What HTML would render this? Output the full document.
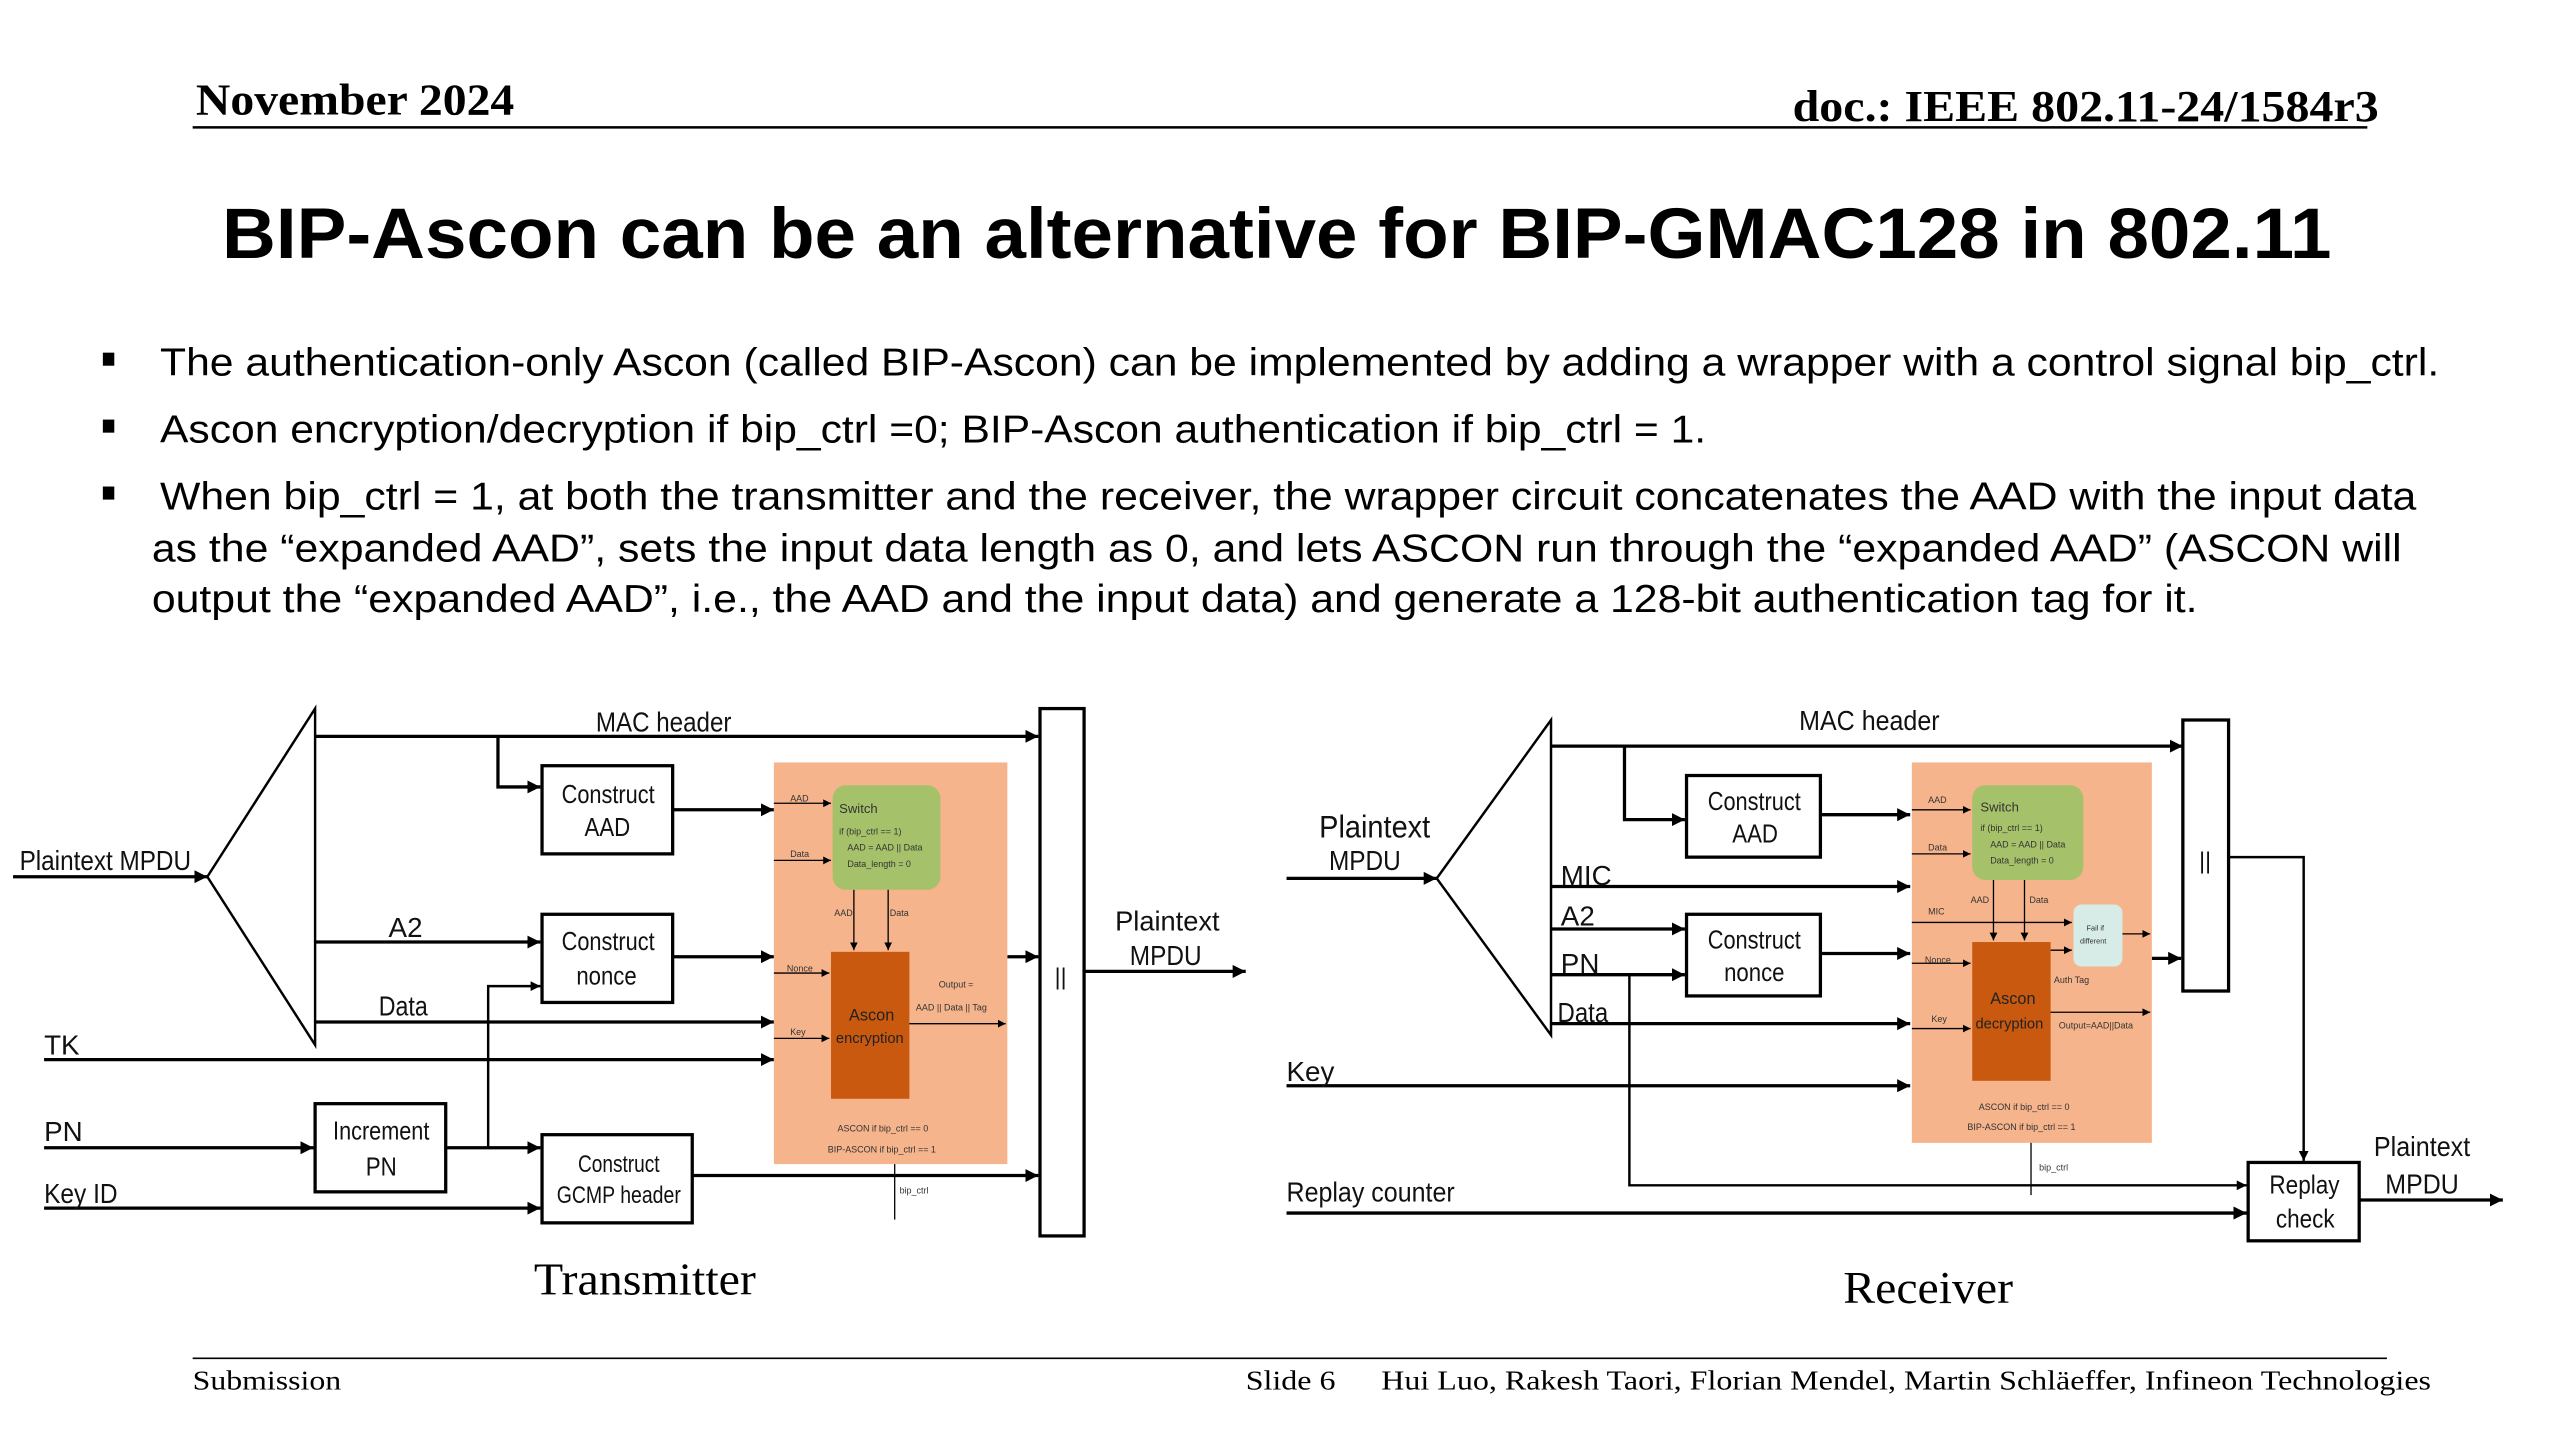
<!DOCTYPE html>
<html><head><meta charset="utf-8"><style>
html,body{margin:0;padding:0;background:#fff;}
svg{display:block;}
.s{font-family:"Liberation Sans",sans-serif;}
.r{font-family:"Liberation Serif",serif;}
</style></head><body>
<svg width="2560" height="1440" viewBox="0 0 1568 882" preserveAspectRatio="none" xmlns="http://www.w3.org/2000/svg">
<defs>
<marker id="a" viewBox="0 0 10 10" refX="10" refY="5" markerWidth="4" markerHeight="4" orient="auto" markerUnits="strokeWidth"><path d="M0,0 L10,5 L0,10 z" fill="#000"/></marker>
<marker id="b" viewBox="0 0 10 10" refX="10" refY="5" markerWidth="6" markerHeight="6" orient="auto" markerUnits="strokeWidth"><path d="M0,0 L10,5 L0,10 z" fill="#000"/></marker>
</defs>
<rect width="1568" height="882" fill="#fff"/>
<g lengthAdjust="spacingAndGlyphs">
<!-- header -->
<text x="120" y="70" class="r" font-weight="bold" font-size="27" textLength="195" lengthAdjust="spacingAndGlyphs">November 2024</text>
<text x="1098" y="74" class="r" font-weight="bold" font-size="27" textLength="359" lengthAdjust="spacingAndGlyphs">doc.: IEEE 802.11-24/1584r3</text>
<line x1="118" y1="78" x2="1450" y2="78" stroke="#000" stroke-width="1.5"/>
<text x="136" y="158" class="s" font-weight="bold" font-size="44" textLength="1292" lengthAdjust="spacingAndGlyphs">BIP-Ascon can be an alternative for BIP-GMAC128 in 802.11</text>
<g class="s" font-size="24" fill="#000">
<rect x="63" y="216" width="7" height="8"/><rect x="63" y="257" width="7" height="8"/><rect x="63" y="298" width="7" height="8"/>
<text x="98" y="230" textLength="1396" lengthAdjust="spacingAndGlyphs">The authentication-only Ascon (called BIP-Ascon) can be implemented by adding a wrapper with a control signal bip_ctrl.</text>
<text x="98" y="271" textLength="947" lengthAdjust="spacingAndGlyphs">Ascon encryption/decryption if bip_ctrl =0; BIP-Ascon authentication if bip_ctrl = 1.</text>
<text x="98" y="312" textLength="1382" lengthAdjust="spacingAndGlyphs">When bip_ctrl = 1, at both the transmitter and the receiver, the wrapper circuit concatenates the AAD with the input data</text>
<text x="93" y="344" textLength="1378" lengthAdjust="spacingAndGlyphs">as the “expanded AAD”, sets the input data length as 0, and lets ASCON run through the “expanded AAD” (ASCON will</text>
<text x="93" y="375" textLength="1253" lengthAdjust="spacingAndGlyphs">output the “expanded AAD”, i.e., the AAD and the input data) and generate a 128-bit authentication tag for it.</text>
</g>

<!-- Transmitter -->
<g stroke="#000" stroke-width="2" fill="none">
<path d="M193,434 L127,537 L193,640 Z" stroke-width="1.5"/>
<line x1="8" y1="537" x2="127" y2="537" marker-end="url(#a)"/>
<line x1="193" y1="451" x2="636" y2="451" marker-end="url(#a)"/>
<polyline points="305,451 305,482 331,482" marker-end="url(#a)"/>
<rect x="332" y="469" width="80" height="54" fill="#fff"/>
<line x1="412" y1="496" x2="474" y2="496" marker-end="url(#a)"/>
<line x1="193" y1="577" x2="331" y2="577" marker-end="url(#a)"/>
<rect x="332" y="560" width="80" height="54" fill="#fff"/>
<line x1="412" y1="586" x2="474" y2="586" marker-end="url(#a)"/>
<polyline points="299,703 299,604 331,604" marker-end="url(#a)" stroke-width="1.5"/>
<line x1="193" y1="626" x2="474" y2="626" marker-end="url(#a)"/>
<line x1="27" y1="649" x2="474" y2="649" marker-end="url(#a)"/>
<line x1="27" y1="703" x2="192" y2="703" marker-end="url(#a)"/>
<rect x="193" y="676" width="80" height="54" fill="#fff"/>
<line x1="273" y1="703" x2="331" y2="703" marker-end="url(#a)"/>
<line x1="27" y1="740" x2="331" y2="740" marker-end="url(#a)"/>
<rect x="332" y="695" width="92" height="54" fill="#fff"/>
<line x1="424" y1="720" x2="636" y2="720" marker-end="url(#a)"/>
<line x1="617" y1="586" x2="636" y2="586" marker-end="url(#a)"/>
<rect x="637" y="434" width="27" height="323" fill="#fff"/>
<line x1="664" y1="595" x2="763" y2="595" marker-end="url(#a)"/>
</g>
<rect x="474" y="467" width="143" height="246" fill="#f5b48b"/>
<rect x="510" y="481" width="66" height="64" rx="8" fill="#a5c26a"/>
<rect x="509" y="583" width="48" height="90" fill="#c8590f"/>
<g stroke="#000" stroke-width="0.8" fill="none">
<line x1="474" y1="492" x2="509" y2="492" marker-end="url(#b)"/>
<line x1="474" y1="527" x2="509" y2="527" marker-end="url(#b)"/>
<line x1="523" y1="545" x2="523" y2="582" marker-end="url(#b)"/>
<line x1="544" y1="545" x2="544" y2="582" marker-end="url(#b)"/>
<line x1="474" y1="596" x2="508" y2="596" marker-end="url(#b)"/>
<line x1="474" y1="636" x2="508" y2="636" marker-end="url(#b)"/>
<line x1="557" y1="627" x2="616" y2="627" marker-end="url(#b)"/>
<line x1="548" y1="747" x2="548" y2="713"/>
</g>
<g class="s" font-size="5.5" fill="#333">
<text x="484" y="491">AAD</text><text x="484" y="525">Data</text>
<text x="514" y="498" font-size="8">Switch</text>
<text x="514" y="511">if (bip_ctrl == 1)</text>
<text x="519" y="521">AAD = AAD || Data</text>
<text x="519" y="531">Data_length = 0</text>
<text x="511" y="561">AAD</text><text x="545" y="561">Data</text>
<text x="482" y="595">Nonce</text><text x="484" y="634">Key</text>
<text x="575" y="605">Output =</text><text x="561" y="619">AAD || Data || Tag</text>
<text x="513" y="693">ASCON if bip_ctrl == 0</text>
<text x="507" y="706">BIP-ASCON if bip_ctrl == 1</text>
<text x="551" y="731">bip_ctrl</text>
</g>
<text x="520" y="625" class="s" font-size="10" fill="#222">Ascon</text>
<text x="512" y="639" class="s" font-size="9" fill="#222">encryption</text>
<g class="s" font-size="17" fill="#111">
<text x="12" y="533" textLength="105" lengthAdjust="spacingAndGlyphs">Plaintext MPDU</text>
<text x="365" y="448" textLength="83" lengthAdjust="spacingAndGlyphs">MAC header</text>
<text x="238" y="574">A2</text>
<text x="232" y="622" textLength="30" lengthAdjust="spacingAndGlyphs">Data</text>
<text x="27" y="646">TK</text>
<text x="27" y="699">PN</text>
<text x="27" y="737" textLength="45" lengthAdjust="spacingAndGlyphs">Key ID</text>
<text x="344" y="492" font-size="16" textLength="57" lengthAdjust="spacingAndGlyphs">Construct</text><text x="358" y="512" font-size="16" textLength="28" lengthAdjust="spacingAndGlyphs">AAD</text>
<text x="344" y="582" font-size="16" textLength="57" lengthAdjust="spacingAndGlyphs">Construct</text><text x="353" y="603" font-size="16" textLength="37" lengthAdjust="spacingAndGlyphs">nonce</text>
<text x="204" y="698" font-size="16" textLength="59" lengthAdjust="spacingAndGlyphs">Increment</text><text x="224" y="720" font-size="16" textLength="19" lengthAdjust="spacingAndGlyphs">PN</text>
<text x="354" y="718" font-size="15" textLength="50" lengthAdjust="spacingAndGlyphs">Construct</text><text x="341" y="737" font-size="15" textLength="76" lengthAdjust="spacingAndGlyphs">GCMP header</text>
<text x="683" y="570" textLength="64" lengthAdjust="spacingAndGlyphs">Plaintext</text><text x="692" y="591" textLength="44" lengthAdjust="spacingAndGlyphs">MPDU</text>
<text x="646" y="603" font-size="14">||</text>
</g>
<text x="395" y="793" class="r" font-size="28" text-anchor="middle" textLength="136" lengthAdjust="spacingAndGlyphs">Transmitter</text>

<!-- Receiver -->
<g stroke="#000" stroke-width="2" fill="none">
<path d="M950,441 L880,538 L950,634 Z" stroke-width="1.5"/>
<line x1="788" y1="538" x2="880" y2="538" marker-end="url(#a)"/>
<line x1="950" y1="457" x2="1337" y2="457" marker-end="url(#a)"/>
<polyline points="995,457 995,502 1032,502" marker-end="url(#a)"/>
<rect x="1033" y="475" width="82" height="50" fill="#fff"/>
<line x1="1115" y1="499" x2="1170" y2="499" marker-end="url(#a)"/>
<line x1="950" y1="543" x2="1170" y2="543" marker-end="url(#a)"/>
<line x1="950" y1="569" x2="1032" y2="569" marker-end="url(#a)"/>
<line x1="950" y1="597" x2="1032" y2="597" marker-end="url(#a)"/>
<rect x="1033" y="560" width="82" height="50" fill="#fff"/>
<line x1="1115" y1="584" x2="1170" y2="584" marker-end="url(#a)"/>
<line x1="950" y1="627" x2="1170" y2="627" marker-end="url(#a)"/>
<polyline points="998,597 998,726 1376,726" marker-end="url(#a)" stroke-width="1.5"/>
<line x1="788" y1="665" x2="1170" y2="665" marker-end="url(#a)"/>
<line x1="788" y1="743" x2="1376" y2="743" marker-end="url(#a)"/>
<line x1="1318" y1="587" x2="1336" y2="587" marker-end="url(#a)"/>
<rect x="1337" y="441" width="28" height="166" fill="#fff"/>
<polyline points="1365,525 1411,525 1411,711" marker-end="url(#a)" stroke-width="1.5"/>
<rect x="1377" y="712" width="68" height="48" fill="#fff"/>
<line x1="1445" y1="735" x2="1533" y2="735" marker-end="url(#a)"/>
</g>
<rect x="1171" y="467" width="147" height="233" fill="#f5b48b"/>
<rect x="1208" y="481" width="68" height="58" rx="8" fill="#a5c26a"/>
<rect x="1208" y="577" width="48" height="85" fill="#c8590f"/>
<rect x="1270" y="554" width="30" height="38" rx="5" fill="#d7ece7"/>
<g stroke="#000" stroke-width="0.8" fill="none">
<line x1="1171" y1="496" x2="1207" y2="496" marker-end="url(#b)"/>
<line x1="1171" y1="523" x2="1207" y2="523" marker-end="url(#b)"/>
<line x1="1221" y1="539" x2="1221" y2="576" marker-end="url(#b)"/>
<line x1="1240" y1="539" x2="1240" y2="576" marker-end="url(#b)"/>
<line x1="1171" y1="565" x2="1269" y2="565" marker-end="url(#b)"/>
<line x1="1256" y1="582" x2="1269" y2="582" marker-end="url(#b)"/>
<line x1="1171" y1="590" x2="1207" y2="590" marker-end="url(#b)"/>
<line x1="1171" y1="630" x2="1207" y2="630" marker-end="url(#b)"/>
<line x1="1256" y1="620" x2="1317" y2="620" marker-end="url(#b)"/>
<line x1="1300" y1="572" x2="1317" y2="572" marker-end="url(#b)"/>
<line x1="1244" y1="732" x2="1244" y2="700"/>
</g>
<g class="s" font-size="5.5" fill="#333">
<text x="1181" y="492">AAD</text><text x="1181" y="521">Data</text>
<text x="1213" y="497" font-size="8">Switch</text>
<text x="1213" y="509">if (bip_ctrl == 1)</text>
<text x="1219" y="519">AAD = AAD || Data</text>
<text x="1219" y="529">Data_length = 0</text>
<text x="1207" y="553">AAD</text><text x="1243" y="553">Data</text>
<text x="1181" y="560">MIC</text>
<text x="1179" y="590">Nonce</text><text x="1183" y="626">Key</text>
<text x="1278" y="570" font-size="4.5">Fail if</text><text x="1274" y="578" font-size="4.5">different</text>
<text x="1258" y="602">Auth Tag</text>
<text x="1261" y="630">Output=AAD||Data</text>
<text x="1212" y="680">ASCON if bip_ctrl == 0</text>
<text x="1205" y="692">BIP-ASCON if bip_ctrl == 1</text>
<text x="1249" y="717">bip_ctrl</text>
</g>
<text x="1219" y="615" class="s" font-size="10" fill="#222">Ascon</text>
<text x="1210" y="630" class="s" font-size="9" fill="#222">decryption</text>
<g class="s" font-size="17" fill="#111">
<text x="808" y="513" font-size="19" textLength="68" lengthAdjust="spacingAndGlyphs">Plaintext</text><text x="814" y="533" font-size="17" textLength="44" lengthAdjust="spacingAndGlyphs">MPDU</text>
<text x="1102" y="447" textLength="86" lengthAdjust="spacingAndGlyphs">MAC header</text>
<text x="956" y="542">MIC</text><text x="956" y="567">A2</text><text x="956" y="596">PN</text><text x="954" y="626" textLength="31" lengthAdjust="spacingAndGlyphs">Data</text>
<text x="788" y="662">Key</text>
<text x="788" y="736" textLength="103" lengthAdjust="spacingAndGlyphs">Replay counter</text>
<text x="1046" y="496" font-size="16" textLength="57" lengthAdjust="spacingAndGlyphs">Construct</text><text x="1061" y="516" font-size="16" textLength="28" lengthAdjust="spacingAndGlyphs">AAD</text>
<text x="1046" y="581" font-size="16" textLength="57" lengthAdjust="spacingAndGlyphs">Construct</text><text x="1056" y="601" font-size="16" textLength="37" lengthAdjust="spacingAndGlyphs">nonce</text>
<text x="1390" y="731" font-size="16" textLength="43" lengthAdjust="spacingAndGlyphs">Replay</text><text x="1394" y="752" font-size="16" textLength="36" lengthAdjust="spacingAndGlyphs">check</text>
<text x="1454" y="708" textLength="59" lengthAdjust="spacingAndGlyphs">Plaintext</text><text x="1461" y="731" textLength="45" lengthAdjust="spacingAndGlyphs">MPDU</text>
<text x="1347" y="532" font-size="14">||</text>
</g>
<text x="1181" y="798" class="r" font-size="28" text-anchor="middle" textLength="104" lengthAdjust="spacingAndGlyphs">Receiver</text>

<!-- footer -->
<line x1="118" y1="832" x2="1462" y2="832" stroke="#000" stroke-width="1"/>
<g class="r" font-size="17" fill="#000">
<text x="118" y="851" textLength="91" lengthAdjust="spacingAndGlyphs">Submission</text>
<text x="763" y="851" textLength="55" lengthAdjust="spacingAndGlyphs">Slide 6</text>
<text x="846" y="851" textLength="643" lengthAdjust="spacingAndGlyphs">Hui Luo, Rakesh Taori, Florian Mendel, Martin Schläeffer, Infineon Technologies</text>
</g>
</g>
</svg>
</body></html>
